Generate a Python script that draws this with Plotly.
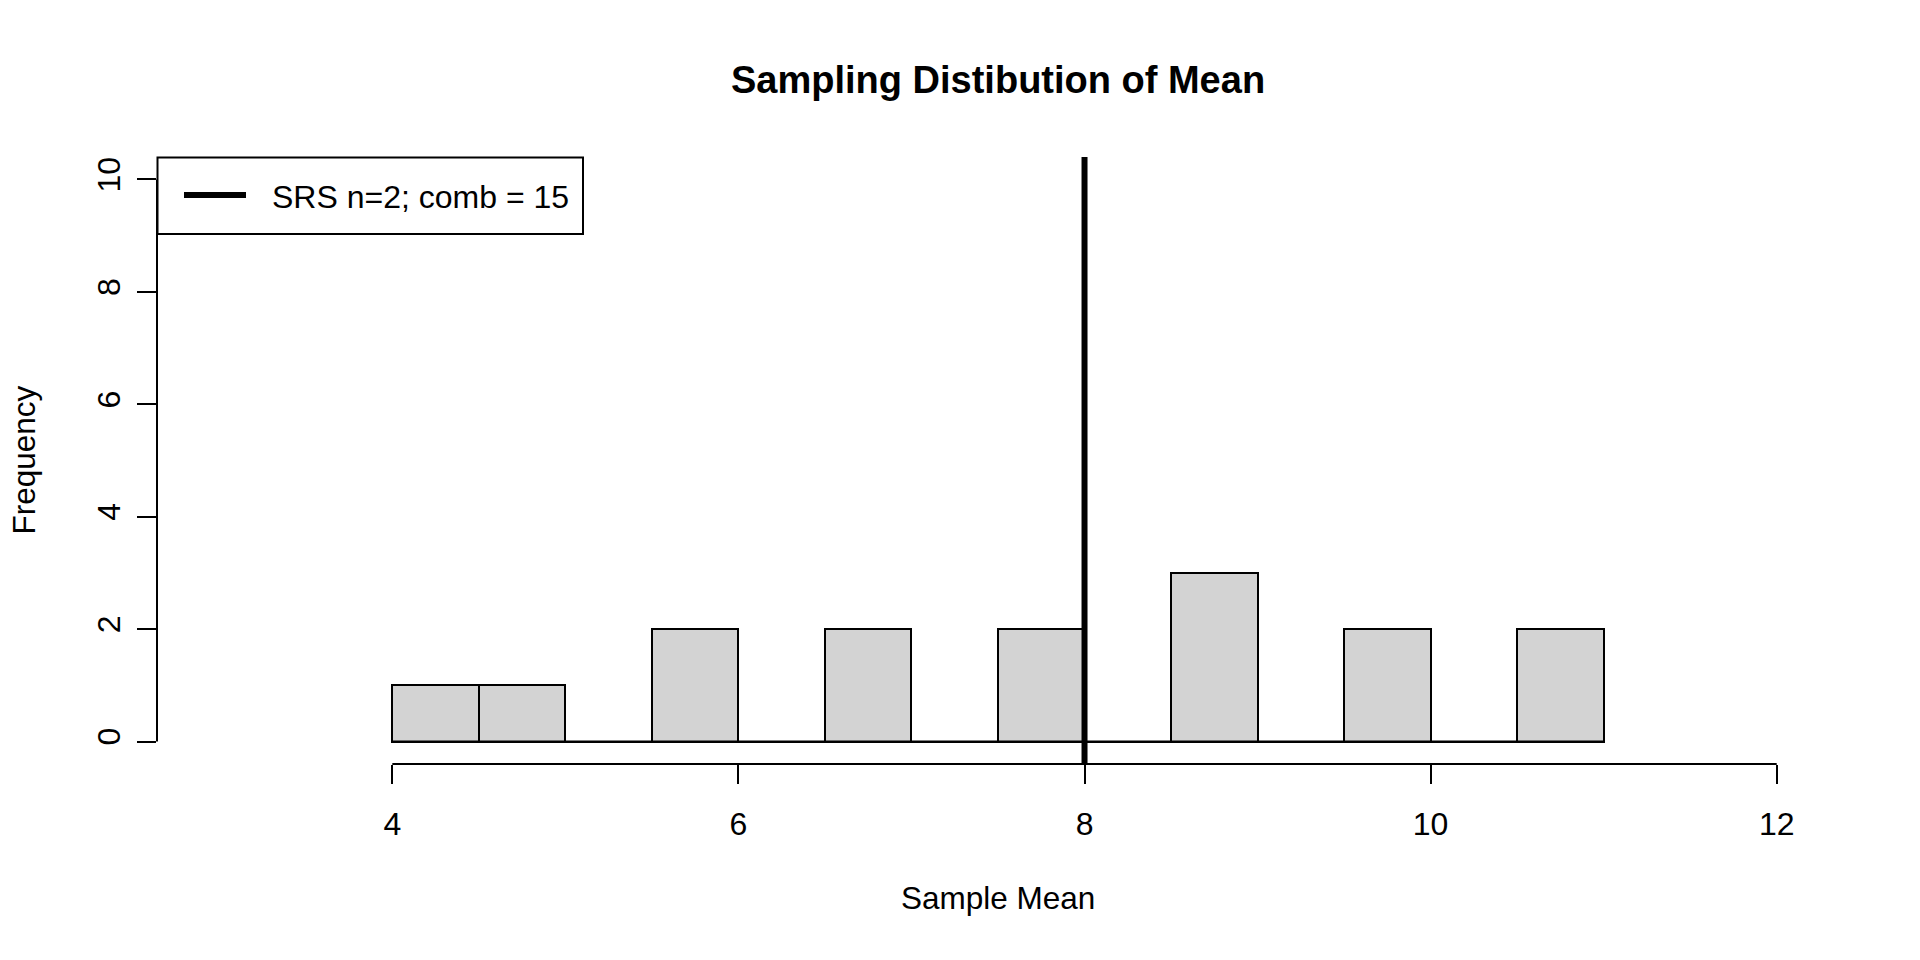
import plotly.graph_objects as go

# ---- data ----
bin_edges = [4.0, 4.5, 5.0, 5.5, 6.0, 6.5, 7.0, 7.5, 8.0, 8.5, 9.0, 9.5, 10.0, 10.5, 11.0]
counts = [1, 1, 0, 2, 0, 2, 0, 2, 0, 3, 0, 2, 0, 2]
pop_mean = 8
x_ticks = [4, 6, 8, 10, 12]
y_ticks = [0, 2, 4, 6, 8, 10]
title_text = "Sampling Distibution of Mean"
x_label = "Sample Mean"
y_label = "Frequency"
legend_label = "SRS n=2; comb = 15"

# ---- layout geometry (pixels) ----
W, H = 1920, 960
ML, MR, MT, MB = 157, 81, 157, 196
PW, PH = W - ML - MR, H - MT - MB
FONT = "Arial, Liberation Sans, sans-serif"
FS = 32

def px(xpix):
    return (xpix - ML) / PW

def py(ypix):
    return (H - MB - ypix) / PH

centers = [(a + b) / 2 for a, b in zip(bin_edges[:-1], bin_edges[1:])]
widths = [b - a for a, b in zip(bin_edges[:-1], bin_edges[1:])]

fig = go.Figure()
fig.add_trace(go.Bar(
    x=centers, y=counts, width=widths,
    marker=dict(color="#D3D3D3", line=dict(color="black", width=2)),
    showlegend=False, hoverinfo="x+y",
))
# baseline for empty bins (R draws zero-height rectangles)
fig.add_trace(go.Scatter(
    x=[bin_edges[0], bin_edges[-1]], y=[0, 0], mode="lines",
    line=dict(color="black", width=2), showlegend=False, hoverinfo="skip",
))

shapes = []
# vertical mean line across the plot region
shapes.append(dict(type="line", xref="x", yref="paper", x0=pop_mean, x1=pop_mean,
                   y0=0, y1=1, line=dict(color="black", width=6), layer="above"))
# axis lines spanning first to last tick (R style)
shapes.append(dict(type="line", xref="x", yref="paper", x0=min(x_ticks), x1=max(x_ticks),
                   y0=0, y1=0, line=dict(color="black", width=2)))
shapes.append(dict(type="line", xref="paper", yref="y", x0=0, x1=0,
                   y0=min(y_ticks), y1=max(y_ticks), line=dict(color="black", width=2)))
# legend box
shapes.append(dict(type="rect", xref="paper", yref="paper", x0=px(157.5), x1=px(583),
                   y0=py(234), y1=py(157.5), line=dict(color="black", width=2),
                   fillcolor="white", layer="above"))
shapes.append(dict(type="line", xref="paper", yref="paper", x0=px(184), x1=px(246),
                   y0=py(195), y1=py(195), line=dict(color="black", width=6), layer="above"))

annotations = [
    dict(text="<b>" + title_text + "</b>", xref="paper", yref="paper", x=0.5, y=py(80),
         xanchor="center", yanchor="middle", showarrow=False,
         font=dict(family=FONT, size=38, color="black")),
    dict(text=x_label, xref="paper", yref="paper", x=0.5, y=py(898),
         xanchor="center", yanchor="middle", showarrow=False,
         font=dict(family=FONT, size=31.5, color="black")),
    dict(text=y_label, xref="paper", yref="paper", x=px(23), y=py(460.5),
         xanchor="center", yanchor="middle", showarrow=False, textangle=-90,
         font=dict(family=FONT, size=31.5, color="black")),
    dict(text=legend_label, xref="paper", yref="paper", x=px(270), y=py(197.5),
         xanchor="left", yanchor="middle", showarrow=False,
         font=dict(family=FONT, size=FS, color="black")),
]

fig.update_layout(
    width=W, height=H,
    margin=dict(l=ML, r=MR, t=MT, b=MB, pad=0),
    paper_bgcolor="white", plot_bgcolor="white",
    showlegend=False,
    shapes=shapes, annotations=annotations,
    bargap=0,
    font=dict(family=FONT, size=FS, color="black"),
)
fig.update_xaxes(
    range=[2.64, 12.36], tickmode="array", tickvals=x_ticks,
    ticktext=[str(v) for v in x_ticks],
    ticks="outside", ticklen=19, tickwidth=2, tickcolor="black",
    ticklabelstandoff=13,
    showline=False, showgrid=False, zeroline=False,
    tickfont=dict(family=FONT, size=FS, color="black"),
)
fig.update_yaxes(
    range=[-0.4, 10.4], tickmode="array", tickvals=y_ticks,
    ticktext=[str(v) for v in y_ticks], tickangle=-90,
    ticks="outside", ticklen=19, tickwidth=2, tickcolor="black",
    ticklabelstandoff=4,
    showline=False, showgrid=False, zeroline=False,
    tickfont=dict(family=FONT, size=FS, color="black"),
)

fig.write_html(
    "out.html",
    config={"displayModeBar": False},
    post_script="document.body.style.margin='0px';document.body.style.overflow='hidden';",
)
